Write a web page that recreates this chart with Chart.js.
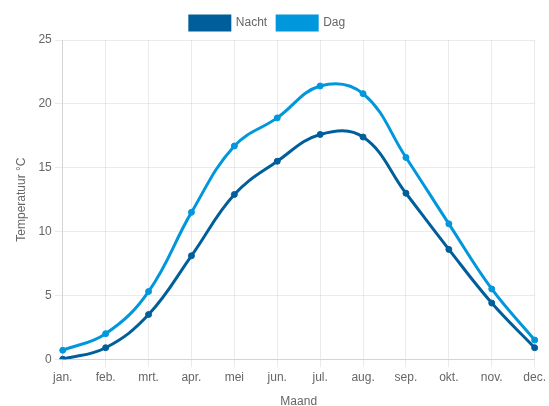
<!DOCTYPE html>
<html>
<head>
<meta charset="utf-8">
<script src="https://cdn.jsdelivr.net/npm/chart.js@4/dist/chart.umd.min.js"></script>
<style>
  html, body { margin: 0; padding: 0; background: #fff; overflow: hidden; }
  #wrap { width: 549px; height: 409px; }
</style>
</head>
<body>
<div id="wrap"><canvas id="chart"></canvas></div>
<script>
// Maandelijkse gemiddelde temperaturen
const months = ['jan.', 'feb.', 'mrt.', 'apr.', 'mei', 'jun.', 'jul.', 'aug.', 'sep.', 'okt.', 'nov.', 'dec.'];
const nacht = [0, 0.9, 3.5, 8.1, 12.9, 15.5, 17.6, 17.4, 13.0, 8.6, 4.4, 0.9];
const dag = [0.7, 2.0, 5.3, 11.5, 16.7, 18.9, 21.4, 20.8, 15.8, 10.6, 5.5, 1.5];

const NACHT_COLOR = '#005f9a';
const DAG_COLOR = '#0097dc';

Chart.defaults.font.family = '"Liberation Sans", Arial, sans-serif';
Chart.defaults.font.size = 12;
Chart.defaults.color = '#666';

function makeDataset(label, data, color) {
  return {
    label,
    data,
    borderColor: color,
    backgroundColor: color,
    borderWidth: 3,
    pointRadius: 3,
    pointBorderWidth: 1,
    pointHoverRadius: 4,
    tension: 0.4,
    fill: false,
  };
}

new Chart(document.getElementById('chart').getContext('2d'), {
  type: 'line',
  data: {
    labels: months,
    datasets: [
      makeDataset('Nacht', nacht, NACHT_COLOR),
      makeDataset('Dag', dag, DAG_COLOR),
    ],
  },
  options: {
    responsive: true,
    maintainAspectRatio: false,
    animation: false,
    layout: { padding: { left: 0, right: 14, top: 6, bottom: 0 } },
    plugins: {
      legend: {
        position: 'top',
        labels: { boxWidth: 40, boxHeight: 14 },
      },
      tooltip: { enabled: false },
    },
    scales: {
      x: {
        title: { display: true, text: 'Maand', padding: { top: 7, bottom: 0 } },
        grid: { color: 'rgba(0,0,0,0.08)' },
      },
      y: {
        min: 0,
        max: 25,
        ticks: { stepSize: 5 },
        title: { display: true, text: 'Temperatuur °C', padding: { top: 14, bottom: 7 } },
        grid: { color: 'rgba(0,0,0,0.08)' },
      },
    },
  },
});
</script>
</body>
</html>
